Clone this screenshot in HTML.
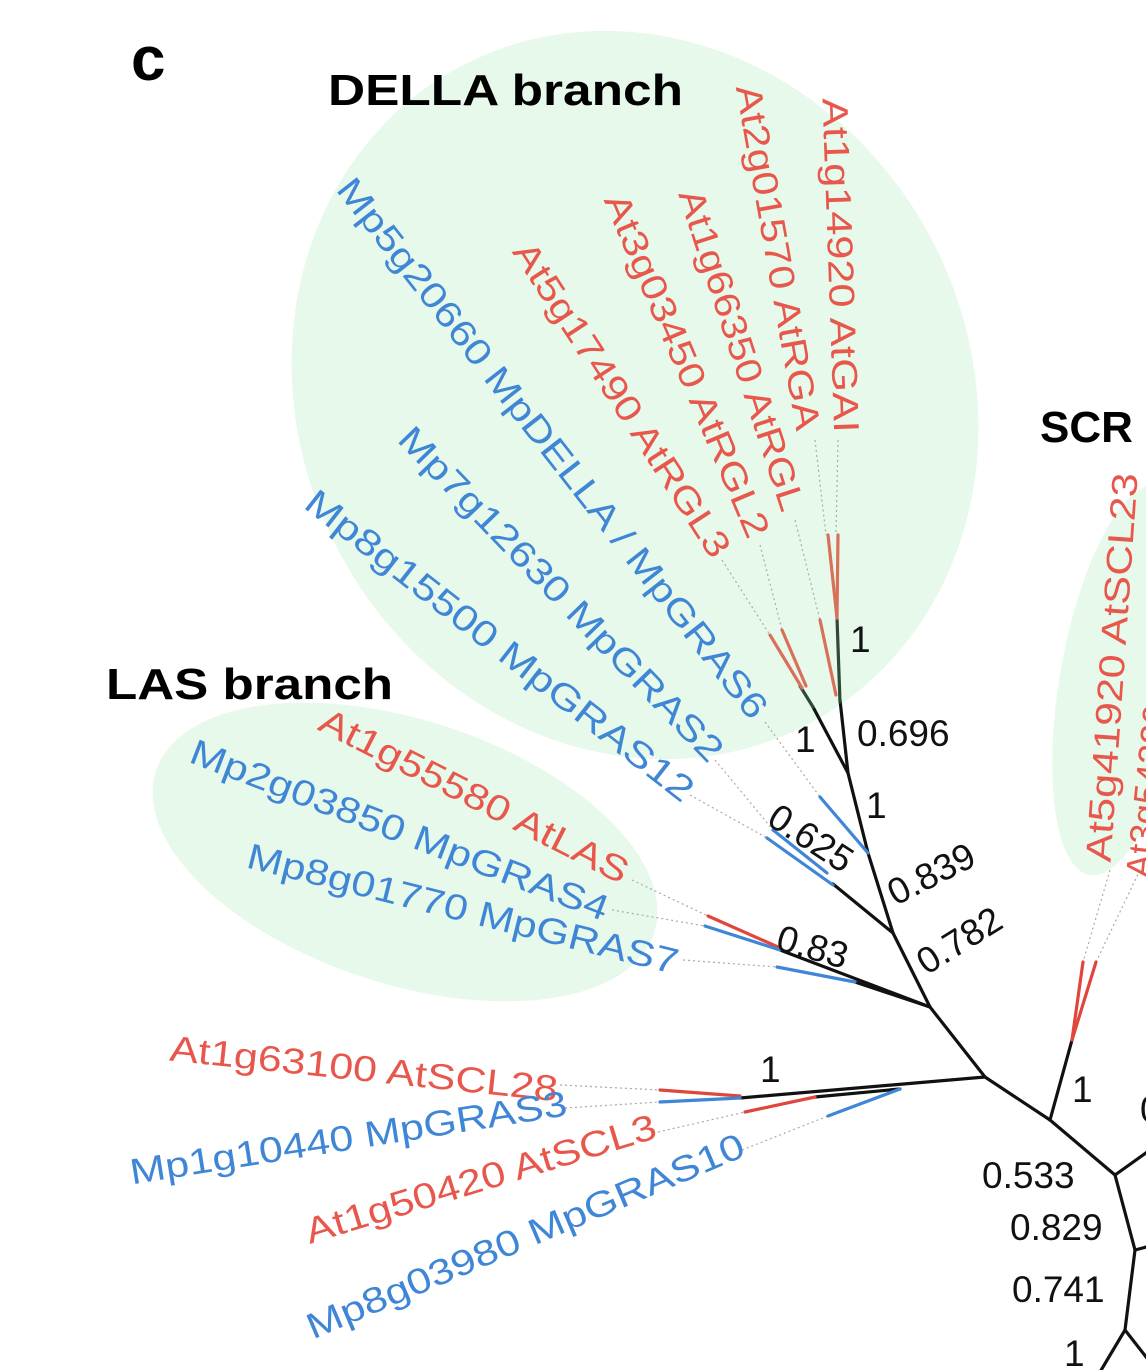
<!DOCTYPE html>
<html><head><meta charset="utf-8"><style>
html,body{margin:0;padding:0;background:#fff}
svg{display:block}
text{font-family:"Liberation Sans",sans-serif}
</style></head><body>
<svg width="1146" height="1370" viewBox="0 0 1146 1370">
<g fill="#e7f9ea">
<ellipse cx="635" cy="395" rx="335" ry="372" transform="rotate(-28 635 395)"/>
<ellipse cx="405" cy="852" rx="262" ry="132" transform="rotate(18 405 852)"/>
<ellipse cx="1124" cy="680" rx="64" ry="198" transform="rotate(10 1124 680)"/>
</g>
<text x="131" y="80" font-size="62" font-weight="bold">c</text>
<text x="328" y="105" font-size="44" font-weight="bold" textLength="355" lengthAdjust="spacingAndGlyphs">DELLA branch</text>
<text x="106" y="699" font-size="44" font-weight="bold" textLength="287" lengthAdjust="spacingAndGlyphs">LAS branch</text>
<text x="1040" y="442" font-size="44" font-weight="bold">SCR</text>

<g stroke="#aaa" stroke-width="1.2" stroke-dasharray="2 3" fill="none">
<line x1="838" y1="440" x2="836" y2="535"/><line x1="815" y1="440" x2="826" y2="535"/>
<line x1="795" y1="520" x2="820" y2="620"/><line x1="760" y1="545" x2="782" y2="630"/>
<line x1="722" y1="560" x2="770" y2="635"/><line x1="765" y1="722" x2="820" y2="797"/>
<line x1="715" y1="760" x2="773" y2="830"/><line x1="690" y1="795" x2="767" y2="838"/>
<line x1="632" y1="880" x2="708" y2="916"/><line x1="612" y1="910" x2="705" y2="926"/>
<line x1="683" y1="960" x2="777" y2="967"/><line x1="560" y1="1085" x2="660" y2="1090"/>
<line x1="565" y1="1108" x2="660" y2="1102"/><line x1="658" y1="1132" x2="745" y2="1112"/>
<line x1="742" y1="1150" x2="828" y2="1116"/><line x1="1110" y1="870" x2="1083" y2="962"/>
<line x1="1140" y1="870" x2="1096" y2="962"/>
</g>

<g stroke="#111" stroke-width="3.2" fill="none" stroke-linecap="round">
<line x1="985" y1="1077" x2="740" y2="1098"/>
<line x1="815" y1="1097" x2="900" y2="1089"/>
<line x1="985" y1="1077" x2="930" y2="1007"/>
<line x1="930" y1="1007" x2="780" y2="950"/>
<line x1="930" y1="1007" x2="855" y2="982"/>
<line x1="930" y1="1007" x2="893" y2="933"/>
<line x1="893" y1="933" x2="833" y2="884"/>
<line x1="893" y1="933" x2="868" y2="853"/>
<line x1="868" y1="853" x2="848" y2="773"/>
<line x1="848" y1="773" x2="813" y2="707"/>
<line x1="848" y1="773" x2="840" y2="700"/>
<line x1="985" y1="1077" x2="1050" y2="1120"/>
<line x1="1050" y1="1120" x2="1072" y2="1040"/>
<line x1="1050" y1="1120" x2="1115" y2="1175"/>
<line x1="1115" y1="1175" x2="1150" y2="1150"/>
<line x1="1115" y1="1175" x2="1135" y2="1250"/>
<line x1="1135" y1="1250" x2="1150" y2="1246"/>
<line x1="1135" y1="1250" x2="1125" y2="1330"/>
<line x1="1125" y1="1330" x2="1150" y2="1362"/>
<line x1="1125" y1="1330" x2="1100" y2="1372"/>
</g>
<g stroke="#2f4a38" stroke-width="3.2" stroke-linecap="round">
<line x1="840" y1="702" x2="837" y2="618"/>
<line x1="813" y1="707" x2="800" y2="686"/>
</g>
<g stroke="#d8705a" stroke-width="3.2" stroke-linecap="round">
<line x1="828" y1="535" x2="837" y2="618"/><line x1="838" y1="535" x2="837" y2="618"/>
<line x1="820" y1="620" x2="836" y2="695"/>
<line x1="770" y1="635" x2="802" y2="688"/><line x1="782" y1="630" x2="806" y2="686"/>
</g>
<g stroke="#e0463c" stroke-width="3.2" stroke-linecap="round">
<line x1="708" y1="916" x2="778" y2="947"/>
<line x1="660" y1="1090" x2="740" y2="1096"/>
<line x1="745" y1="1112" x2="815" y2="1097"/>
<line x1="1072" y1="1040" x2="1083" y2="962"/><line x1="1072" y1="1040" x2="1096" y2="962"/>
</g>
<g stroke="#3f86d6" stroke-width="3.2" stroke-linecap="round">
<line x1="820" y1="797" x2="868" y2="853"/>
<line x1="773" y1="830" x2="827" y2="873"/>
<line x1="767" y1="838" x2="833" y2="885"/>
<line x1="705" y1="926" x2="780" y2="950"/>
<line x1="777" y1="967" x2="855" y2="982"/>
<line x1="660" y1="1102" x2="740" y2="1098"/>
<line x1="828" y1="1116" x2="900" y2="1089"/>
</g>

<g font-size="36">
<text fill="#e8574c" x="835" y="98" dominant-baseline="central" textLength="335" lengthAdjust="spacingAndGlyphs" transform="rotate(88 835 98)">At1g14920 AtGAI</text>
<text fill="#e8574c" x="748" y="85" dominant-baseline="central" textLength="350" lengthAdjust="spacingAndGlyphs" transform="rotate(80 748 85)">At2g01570 AtRGA</text>
<text fill="#e8574c" x="690" y="190" dominant-baseline="central" textLength="336" lengthAdjust="spacingAndGlyphs" transform="rotate(72 690 190)">At1g66350 AtRGL</text>
<text fill="#e8574c" x="615" y="195" dominant-baseline="central" textLength="370" lengthAdjust="spacingAndGlyphs" transform="rotate(67 615 195)">At3g03450 AtRGL2</text>
<text fill="#e8574c" x="522" y="245" dominant-baseline="central" textLength="368" lengthAdjust="spacingAndGlyphs" transform="rotate(57 522 245)">At5g17490 AtRGL3</text>
<text fill="#3f86d6" x="345" y="182" dominant-baseline="central" textLength="675" lengthAdjust="spacingAndGlyphs" transform="rotate(52 345 182)">Mp5g20660 MpDELLA / MpGRAS6</text>
<text fill="#3f86d6" x="405" y="432" dominant-baseline="central" textLength="450" lengthAdjust="spacingAndGlyphs" transform="rotate(46 405 432)">Mp7g12630 MpGRAS2</text>
<text fill="#3f86d6" x="310" y="497" dominant-baseline="central" textLength="482" lengthAdjust="spacingAndGlyphs" transform="rotate(38 310 497)">Mp8g15500 MpGRAS12</text>
<text fill="#e8574c" x="322" y="718" dominant-baseline="central" textLength="342" lengthAdjust="spacingAndGlyphs" transform="rotate(27 322 718)">At1g55580 AtLAS</text>
<text fill="#3f86d6" x="192" y="750" dominant-baseline="central" textLength="445" lengthAdjust="spacingAndGlyphs" transform="rotate(21 192 750)">Mp2g03850 MpGRAS4</text>
<text fill="#3f86d6" x="248" y="855" dominant-baseline="central" textLength="443" lengthAdjust="spacingAndGlyphs" transform="rotate(14 248 855)">Mp8g01770 MpGRAS7</text>
<text fill="#e8574c" x="170" y="1048" dominant-baseline="central" textLength="390" lengthAdjust="spacingAndGlyphs" transform="rotate(6 170 1048)">At1g63100 AtSCL28</text>
<text fill="#3f86d6" x="130" y="1172" dominant-baseline="central" textLength="442" lengthAdjust="spacingAndGlyphs" transform="rotate(-9 130 1172)">Mp1g10440 MpGRAS3</text>
<text fill="#e8574c" x="306" y="1232" dominant-baseline="central" textLength="365" lengthAdjust="spacingAndGlyphs" transform="rotate(-17 306 1232)">At1g50420 AtSCL3</text>
<text fill="#3f86d6" x="308" y="1328" dominant-baseline="central" textLength="472" lengthAdjust="spacingAndGlyphs" transform="rotate(-23 308 1328)">Mp8g03980 MpGRAS10</text>
<text fill="#e8574c" x="1098" y="862" dominant-baseline="central" textLength="390" lengthAdjust="spacingAndGlyphs" transform="rotate(-86 1098 862)">At5g41920 AtSCL23</text>
<text fill="#e8574c" x="1138" y="878" dominant-baseline="central" transform="rotate(-84 1138 878)">At3g54220 AtSCR</text>
</g>

<g font-size="37" fill="#111">
<text x="850" y="652">1</text>
<text x="857" y="746">0.696</text>
<text x="795" y="752">1</text>
<text x="866" y="818">1</text>
<text x="772" y="813" dominant-baseline="central" transform="rotate(33 772 813)">0.625</text>
<text x="890" y="895" dominant-baseline="central" transform="rotate(-27 890 895)">0.839</text>
<text x="920" y="965" dominant-baseline="central" transform="rotate(-32 920 965)">0.782</text>
<text x="778" y="937" dominant-baseline="central" transform="rotate(16 778 937)">0.83</text>
<text x="760" y="1082">1</text>
<text x="1072" y="1102">1</text>
<text x="982" y="1188">0.533</text>
<text x="1010" y="1240">0.829</text>
<text x="1012" y="1302">0.741</text>
<text x="1064" y="1366">1</text>
<text x="1140" y="1122">0</text>
</g>
</svg>
</body></html>
